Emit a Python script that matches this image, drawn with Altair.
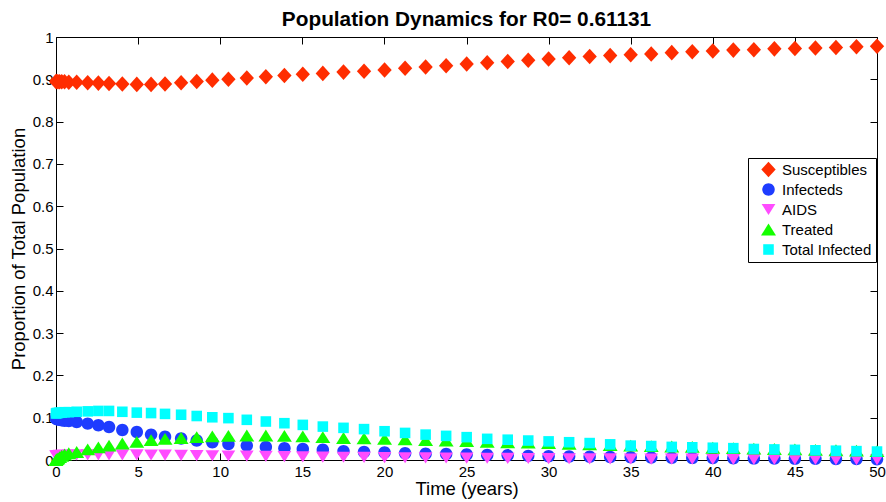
import altair as alt
import pandas as pd

FONT = "Liberation Sans"

# Solver output times (years)
t_years = [
    0, 0.05, 0.12, 0.22, 0.35, 0.52, 0.78,
    1.26, 1.93, 2.58, 3.23, 4.04, 4.92, 5.79, 6.64, 7.62, 8.57, 9.52, 10.5,
    11.62, 12.78, 13.91, 15.03, 16.25,
    17.51, 18.76, 20.01, 21.26, 22.51, 23.76, 25.01, 26.26, 27.51, 28.76,
    30.0, 31.25, 32.5, 33.75, 35.0, 36.25, 37.5, 38.75, 40.0, 41.25, 42.5,
    43.75, 45.0, 46.25, 47.5, 48.75, 50.0,
]

susceptibles = [
    0.895, 0.895, 0.894, 0.894, 0.894, 0.894, 0.893,
    0.893, 0.892, 0.891, 0.890, 0.889, 0.888, 0.888, 0.889, 0.892, 0.895,
    0.898, 0.900, 0.903, 0.906, 0.909, 0.912, 0.914,
    0.917, 0.919, 0.922, 0.926, 0.929, 0.932, 0.936, 0.939, 0.942, 0.945,
    0.948, 0.951, 0.954, 0.956, 0.958, 0.960, 0.963, 0.965, 0.967, 0.969,
    0.970, 0.972, 0.973, 0.974, 0.975, 0.977, 0.978,
]

infecteds = [
    0.098, 0.097, 0.096, 0.095, 0.094, 0.093, 0.092,
    0.090, 0.086, 0.082, 0.078, 0.071, 0.066, 0.060, 0.055, 0.051, 0.046,
    0.042, 0.038, 0.034, 0.031, 0.028, 0.026, 0.024,
    0.021, 0.019, 0.018, 0.016, 0.015, 0.014, 0.013, 0.012, 0.011, 0.0098,
    0.009, 0.0083, 0.0077, 0.0071, 0.0065, 0.006, 0.0055, 0.005, 0.0046,
    0.0042, 0.0038, 0.0035, 0.0032, 0.0029, 0.0026, 0.0023, 0.002,
]

aids = [
    0.010, 0.010, 0.0105, 0.011, 0.011, 0.0112, 0.0115,
    0.012, 0.012, 0.012, 0.012, 0.012, 0.012, 0.0118, 0.0115, 0.011, 0.0105,
    0.010, 0.0095, 0.009, 0.0085, 0.008, 0.0075, 0.007,
    0.0065, 0.006, 0.0057, 0.0053, 0.005, 0.0047, 0.0044, 0.0041, 0.0038,
    0.0035, 0.0033, 0.003, 0.0028, 0.0026, 0.0024, 0.0022, 0.002, 0.0019,
    0.0018, 0.0016, 0.0015, 0.0014, 0.0013, 0.0012, 0.0011, 0.001, 0.001,
]

treated = [
    0.0, 0.002, 0.004, 0.007, 0.010, 0.013, 0.016,
    0.019, 0.025, 0.030, 0.034, 0.039, 0.043, 0.047, 0.050, 0.052, 0.054,
    0.056, 0.057, 0.058, 0.058, 0.057, 0.056, 0.054,
    0.052, 0.051, 0.050, 0.049, 0.047, 0.046, 0.045, 0.043, 0.042, 0.041,
    0.040, 0.038, 0.037, 0.035, 0.034, 0.033, 0.032, 0.031, 0.029, 0.028,
    0.027, 0.026, 0.025, 0.024, 0.023, 0.022, 0.021,
]

total_infected = [
    0.110, 0.111, 0.111, 0.112, 0.112, 0.113, 0.113,
    0.114, 0.115, 0.116, 0.116, 0.114, 0.112, 0.111, 0.109, 0.107, 0.104,
    0.101, 0.099, 0.095, 0.091, 0.087, 0.083, 0.079,
    0.076, 0.073, 0.068, 0.064, 0.060, 0.057, 0.054, 0.050, 0.048, 0.046,
    0.044, 0.042, 0.040, 0.037, 0.034, 0.033, 0.031, 0.030, 0.029, 0.028,
    0.026, 0.025, 0.024, 0.023, 0.022, 0.021, 0.020,
]

series_names = ["Susceptibles", "Infecteds", "AIDS", "Treated", "Total Infected"]
series_colors = ["#ff2d00", "#1e3cff", "#ff4cff", "#14ff00", "#00ffff"]
# marker outlines in a -1..1 box (scaled by sqrt(size)/2)
series_shapes = [
    "M-1.15,0L0,-1.25L1.15,0L0,1.25Z",
    "M-1,0A1,1,0,1,0,1,0A1,1,0,1,0,-1,0Z",
    "M-1.1,-0.9L1.1,-0.9L0,0.9Z",
    "M0,-0.95L1.2,0.95L-1.2,0.95Z",
    "M-0.85,-0.85L0.85,-0.85L0.85,0.85L-0.85,0.85Z",
]

x_ticks = [0, 5, 10, 15, 20, 25, 30, 35, 40, 45, 50]
y_ticks = [0, 0.1, 0.2, 0.3, 0.4, 0.5, 0.6, 0.7, 0.8, 0.9, 1]

rows = []
all_series = [susceptibles, infecteds, aids, treated, total_infected]
for k, (name, vals) in enumerate(zip(series_names, all_series)):
    for j, (t, v) in enumerate(zip(t_years, vals)):
        rows.append({"t": t, "value": v, "series": name, "draw": k * 1000 + j})
df = pd.DataFrame(rows)

x_scale = alt.Scale(domain=[0, 50], nice=False, zero=False)
y_scale = alt.Scale(domain=[0, 1], nice=False)

legend = alt.Legend(
    title=None, orient="none", legendX=692, legendY=121, direction="vertical",
    strokeColor="black", fillColor="white", padding=4, cornerRadius=0,
    symbolSize=155, symbolStrokeWidth=0, symbolOpacity=1, symbolOffset=9,
    labelOffset=6, labelFont=FONT, labelFontSize=15, labelColor="black",
    rowPadding=4, labelLimit=200,
)

# inward ticks on top and right edges of the box
frame = alt.Chart(df).mark_point(opacity=0).encode(
    x=alt.X("t:Q", scale=x_scale, axis=alt.Axis(
        orient="top", values=x_ticks, offset=-7, tickSize=7, tickColor="black",
        labels=False, domain=False, grid=False, title=None)),
    y=alt.Y("value:Q", scale=y_scale, axis=alt.Axis(
        orient="right", values=y_ticks, offset=-7, tickSize=7, tickColor="black",
        labels=False, domain=False, grid=False, title=None)),
)

points = alt.Chart(df).mark_point(filled=True, opacity=1, size=155, strokeWidth=0).encode(
    x=alt.X("t:Q", scale=x_scale, axis=alt.Axis(
        orient="bottom", values=x_ticks, format="d", offset=-7, tickSize=7,
        tickColor="black", domain=False, grid=False, labelFlush=False,
        labelOverlap=False, labelFont=FONT, labelFontSize=15, labelColor="black",
        labelPadding=4, title="Time (years)", titleFont=FONT, titleFontSize=18.5,
        titleFontWeight="normal", titleColor="black", titleY=41.5,
        titleBaseline="alphabetic")),
    y=alt.Y("value:Q", scale=y_scale, axis=alt.Axis(
        orient="left", values=y_ticks, format="~g", offset=-7, tickSize=7,
        tickColor="black", domain=False, grid=False, labelFlush=False,
        labelOverlap=False, labelFont=FONT, labelFontSize=15, labelColor="black",
        labelPadding=3, title="Proportion of Total Population", titleFont=FONT,
        titleFontSize=18.5, titleFontWeight="normal", titleColor="black",
        titleX=-38.5, titleBaseline="alphabetic")),
    color=alt.Color("series:N", scale=alt.Scale(domain=series_names, range=series_colors), legend=legend),
    shape=alt.Shape("series:N", scale=alt.Scale(domain=series_names, range=series_shapes), legend=legend),
    order=alt.Order("draw:Q"),
)

chart = alt.layer(frame, points).resolve_axis(
    x="independent", y="independent"
).properties(
    width=821,
    height=423,
    title=alt.TitleParams(
        text="Population Dynamics for R0= 0.61131", font=FONT, fontSize=20.8,
        fontWeight="bold", color="black", anchor="middle", offset=10,
        baseline="alphabetic", dy=27),
    autosize=alt.AutoSizeParams(type="none"),
    padding={"left": 56, "top": 37, "right": 9, "bottom": 42},
    background="white",
).configure_view(stroke="black", strokeWidth=1)

chart.save("out.html", embed_options={"renderer": "svg", "actions": False})
